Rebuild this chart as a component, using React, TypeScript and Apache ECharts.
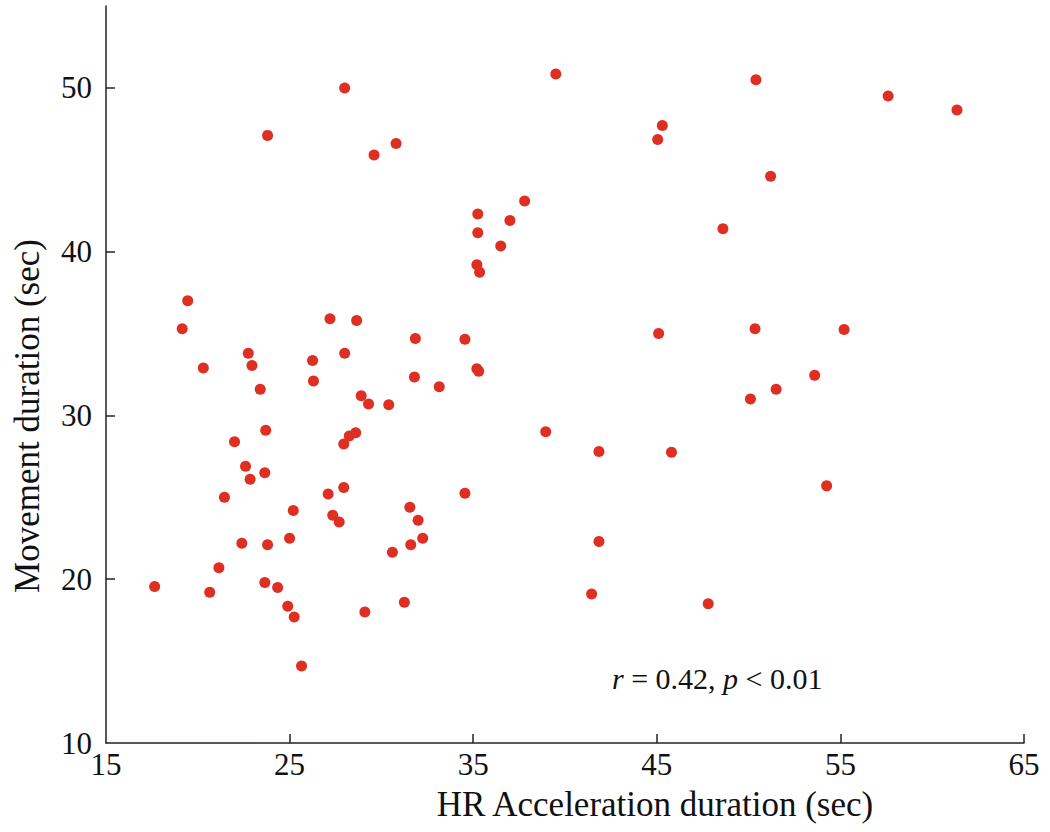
import React, { useEffect, useRef } from "react";
import * as echarts from "echarts";

const hrAcceleration: number[] = [
  28.0, 23.8, 29.6, 30.8, 19.45, 19.15, 27.2, 28.65, 31.85, 22.75,
  28.0, 26.25, 22.95, 20.3, 31.8, 26.3, 23.4, 28.9, 29.3, 30.4,
  23.7, 22.0, 28.6, 28.25, 27.95, 22.6, 23.65, 22.85, 27.95, 27.1,
  21.45, 31.55, 25.2, 27.35, 27.7, 32.0, 32.25, 31.6, 25.0, 22.4,
  23.8, 30.6, 21.15, 17.65, 23.65, 24.35, 20.65, 31.25, 24.9, 29.1,
  25.25, 25.65, 39.5, 45.3, 45.05, 37.8, 35.25, 37.0, 35.25, 36.5,
  35.2, 35.35, 48.6, 34.55, 45.1, 35.2, 35.3, 33.15, 38.95, 41.85,
  45.8, 34.55, 41.85, 41.45, 47.8, 50.4, 57.6, 61.35, 51.2, 50.35,
  55.2, 53.6, 51.5, 50.1, 54.25,
];

const movementDuration: number[] = [
  50.0, 47.1, 45.9, 46.6, 37.0, 35.3, 35.9, 35.8, 34.7, 33.8,
  33.8, 33.35, 33.05, 32.9, 32.35, 32.1, 31.6, 31.2, 30.7, 30.65,
  29.1, 28.4, 28.95, 28.75, 28.25, 26.9, 26.5, 26.1, 25.6, 25.2,
  25.0, 24.4, 24.2, 23.9, 23.5, 23.6, 22.5, 22.1, 22.5, 22.2,
  22.1, 21.65, 20.7, 19.55, 19.8, 19.5, 19.2, 18.6, 18.35, 18.0,
  17.7, 14.7, 50.85, 47.7, 46.85, 43.1, 42.3, 41.9, 41.15, 40.35,
  39.2, 38.75, 41.4, 34.65, 35.0, 32.85, 32.7, 31.75, 29.0, 27.8,
  27.75, 25.25, 22.3, 19.1, 18.5, 50.5, 49.5, 48.65, 44.6, 35.3,
  35.25, 32.45, 31.6, 31.0, 25.7,
];

const xTickValues: number[] = [15, 25, 35, 45, 55, 65];
const xInnerTicks: number[] = [25, 35, 45, 55, 65];
const yTickValues: number[] = [10, 20, 30, 40, 50];
const yInnerTicks: number[] = [20, 30, 40, 50];

const xTitle = "HR Acceleration duration (sec)";
const yTitle = "Movement duration (sec)";

const SERIF = '"Liberation Serif", "Times New Roman", "DejaVu Serif", serif';
const AXIS_COLOR = "#222222";
const DOT_COLOR = "#de2f22";

export default function App() {
  const ref = useRef<HTMLDivElement>(null);

  useEffect(() => {
    if (!ref.current) return;
    const chart = echarts.init(ref.current, null, { renderer: "svg" });
    const points = hrAcceleration.map((x, i) => [x, movementDuration[i]]);

    chart.setOption({
      animation: false,
      backgroundColor: "#ffffff",
      grid: { left: 106, right: 26, top: 6, bottom: 89, containLabel: false },
      xAxis: {
        type: "value",
        min: 15,
        max: 65,
        interval: 10,
        splitLine: { show: false },
        axisLine: { show: true, onZero: false, lineStyle: { color: AXIS_COLOR, width: 1.5 } },
        axisTick: {
          show: true,
          inside: true,
          length: 9,
          customValues: xInnerTicks,
          lineStyle: { color: AXIS_COLOR, width: 1.5 },
        },
        axisLabel: {
          show: true,
          margin: 6,
          customValues: xTickValues,
          color: "#111111",
          fontFamily: SERIF,
          fontSize: 31,
        },
      },
      yAxis: {
        type: "value",
        min: 10,
        max: 55,
        interval: 10,
        splitLine: { show: false },
        axisLine: { show: true, onZero: false, lineStyle: { color: AXIS_COLOR, width: 1.5 } },
        axisTick: {
          show: true,
          inside: true,
          length: 9,
          customValues: yInnerTicks,
          lineStyle: { color: AXIS_COLOR, width: 1.5 },
        },
        axisLabel: {
          show: true,
          margin: 14,
          customValues: yTickValues,
          color: "#111111",
          fontFamily: SERIF,
          fontSize: 31,
        },
      },
      series: [
        {
          type: "scatter",
          data: points,
          symbol: "circle",
          symbolSize: 11,
          itemStyle: { color: DOT_COLOR, opacity: 1 },
          emphasis: { disabled: true },
        },
      ],
      graphic: [
        {
          type: "text",
          x: 655,
          y: 804,
          style: {
            text: xTitle,
            fontFamily: SERIF,
            fontSize: 35,
            fill: "#111111",
            align: "center",
            verticalAlign: "middle",
          },
        },
        {
          type: "text",
          x: 27,
          y: 416,
          rotation: Math.PI / 2,
          style: {
            text: yTitle,
            fontFamily: SERIF,
            fontSize: 35,
            fill: "#111111",
            align: "center",
            verticalAlign: "middle",
          },
        },
        {
          type: "text",
          x: 612,
          y: 678,
          style: {
            text: "{i|r} = 0.42, {i|p} < 0.01",
            fontFamily: SERIF,
            fontSize: 30,
            fill: "#111111",
            align: "left",
            verticalAlign: "middle",
            rich: {
              i: { fontFamily: SERIF, fontSize: 30, fontStyle: "italic", fill: "#111111" },
            },
          },
        },
      ],
    });

    return () => {
      chart.dispose();
    };
  }, []);

  return (
    <div
      ref={ref}
      style={{ position: "fixed", left: 0, top: 0, width: 1050, height: 832, background: "#fff" }}
    />
  );
}
